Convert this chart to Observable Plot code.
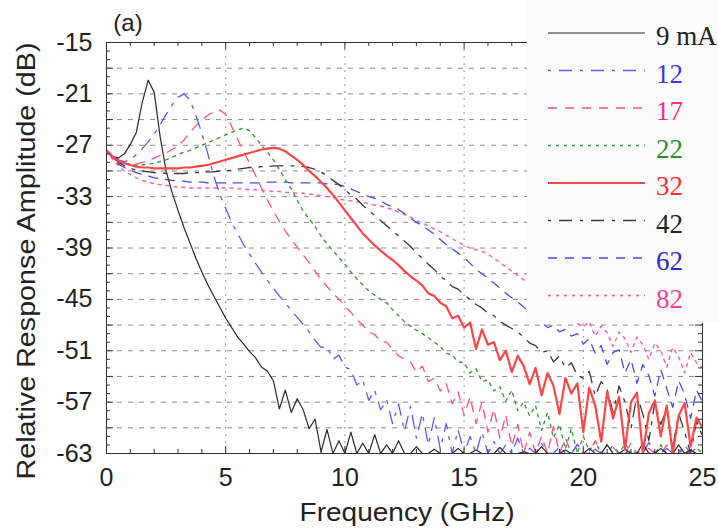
<!DOCTYPE html>
<html><head><meta charset="utf-8">
<script src="https://cdn.jsdelivr.net/npm/d3@7"></script>
<script src="https://cdn.jsdelivr.net/npm/@observablehq/plot@0.6"></script>
<style>
html,body{margin:0;padding:0;background:#fff;}
#chart{width:718px;height:529px;position:relative;}
</style></head><body><div id="chart"></div>
<script>
// Bias currents (legend labels)
const seriesNames = ["9 mA","12","17","22","32","42","62","82"];
// Frequency grid (GHz), 0.25 GHz step, 101 points
const freq = d3.range(101).map(i => i * 0.25);

// Relative response amplitude (dB)
const s9 = [
 -27.6,-28.3,-28.5,-28.0,-26.9,-25.5,-22.0,-19.4,-20.8,-26.0,-30.0,-32.5,-34.6,-36.6,-38.4,-40.2,-41.8,-43.3,-44.6,-45.9,
 -47.2,-48.3,-49.4,-50.2,-51.1,-51.8,-52.9,-53.4,-54.5,-57.8,-55.6,-58.2,-56.6,-57.9,-60.1,-59.0,-62.8,-60.2,-63,-61.5,
 -63,-60.5,-63,-61.8,-63,-60.8,-63,-62.0,-63,-61.5,-63,-63,-62.2,-63,-63,-62.5,-63,-63,-63,-62.4,
 -63,-63,-62.6,-63,-63,-63,-62.3,-63,-63,-63,-62.8,-63,-63,-62.2,-63,-63,-63,-62.6,-63,-63,
 -63,-62.4,-63,-63,-62.0,-63,-63,-62.5,-63,-63,-61.8,-63,-63,-62.4,-63,-63,-62.0,-63,-62.6,-63,
 -63];
const s12 = [
 -27.6,-28.2,-28.7,-28.9,-28.7,-28.1,-27.4,-26.6,-25.7,-24.6,-23.4,-22.3,-21.4,-21.0,-21.7,-23.5,-25.6,-28.0,-30.6,-32.7,
 -34.4,-36.0,-37.3,-38.6,-39.7,-40.8,-41.8,-42.8,-43.7,-44.6,-45.4,-46.3,-47.1,-47.9,-48.8,-49.8,-50.6,-50.5,-52.0,-51.5,
 -52.9,-53.2,-55.0,-54.4,-56.8,-55.6,-57.9,-56.7,-59.5,-57.2,-60.4,-57.5,-61.2,-58.3,-62.0,-58.8,-62.5,-59.5,-63,-60.2,
 -63,-61.0,-63,-60.5,-63,-61.6,-63,-62.0,-63,-61.2,-63,-62.4,-63,-61.8,-63,-63,-62.2,-63,-63,-61.9,
 -63,-63,-62.5,-63,-63,-62.0,-63,-63,-62.6,-63,-63,-61.7,-63,-63,-62.4,-63,-63,-62.0,-63,-63,
 -63];
const s17 = [
 -27.6,-28.4,-28.9,-29.1,-29.2,-29.2,-29.0,-28.8,-28.5,-28.2,-27.9,-27.5,-27.1,-26.4,-25.5,-24.7,-24.1,-23.5,-23.1,-22.9,
 -23.4,-24.8,-26.3,-27.7,-29.1,-30.5,-32.0,-33.4,-34.7,-35.9,-37.0,-38.0,-38.9,-39.8,-40.7,-41.7,-42.7,-43.5,-44.3,-45.0,
 -45.8,-46.5,-47.4,-48.0,-48.8,-49.1,-49.9,-50.0,-50.8,-51.6,-52.0,-52.3,-53.5,-52.8,-54.6,-54.2,-55.7,-54.8,-57.2,-55.8,
 -58.6,-56.4,-59.5,-57.0,-60.5,-57.8,-61.2,-58.5,-62.2,-59.6,-63,-60.5,-63,-61.0,-63,-59.8,-63,-61.2,-63,-62.0,
 -63,-63,-61.5,-63,-63,-62.3,-63,-63,-61.8,-63,-63,-62.4,-63,-63,-62.0,-63,-63,-62.6,-63,-63,
 -63];
const s22 = [
 -27.6,-28.3,-28.8,-29.1,-29.2,-29.3,-29.3,-29.2,-29.1,-28.9,-28.7,-28.4,-28.1,-27.8,-27.6,-27.3,-27.0,-26.7,-26.4,-26.1,
 -25.8,-25.5,-25.2,-25.0,-25.3,-26.1,-27.0,-27.8,-28.7,-29.8,-31.0,-32.1,-33.4,-34.7,-35.6,-36.5,-37.6,-38.5,-39.3,-40.1,
 -40.9,-41.8,-42.6,-43.3,-44.0,-44.5,-45.0,-45.4,-46.2,-46.9,-47.6,-48.1,-48.6,-49.0,-49.5,-50.0,-50.5,-51.3,-51.5,-52.3,
 -52.4,-53.6,-53.1,-54.6,-54.4,-55.7,-55.2,-56.9,-55.6,-58.0,-57.0,-58.6,-57.4,-60.3,-58.2,-61.2,-59.6,-62.5,-60.1,-63,
 -61.0,-62.7,-61.6,-63,-62.0,-63,-63,-61.8,-63,-63,-62.4,-63,-63,-62.0,-63,-63,-62.6,-63,-63,-62.3,
 -63];
const s32 = [
 -27.6,-28.3,-28.8,-29.1,-29.3,-29.5,-29.6,-29.6,-29.7,-29.7,-29.7,-29.7,-29.7,-29.6,-29.6,-29.5,-29.4,-29.3,-29.1,-28.9,
 -28.7,-28.5,-28.3,-28.1,-27.9,-27.7,-27.5,-27.4,-27.3,-27.4,-27.7,-28.2,-28.7,-29.3,-30.0,-30.6,-31.3,-32.0,-32.8,-33.7,
 -34.6,-35.5,-36.4,-37.3,-38.0,-38.7,-39.3,-39.9,-40.4,-41.0,-41.7,-42.3,-42.8,-43.4,-44.3,-44.6,-45.4,-45.8,-47.2,-46.9,
 -48.3,-47.7,-50.8,-48.5,-50.3,-50.0,-52.1,-51.0,-53.5,-51.6,-52.8,-54.9,-53.0,-56.2,-53.6,-55.1,-58.4,-54.2,-56.0,-54.8,
 -60.5,-55.3,-57.4,-61.6,-55.8,-58.9,-56.4,-62.5,-57.0,-55.9,-63,-58.3,-56.8,-61.0,-57.4,-63,-58.6,-57.1,-62.2,-58.8,
 -60];
const s42 = [
 -27.6,-28.4,-29.0,-29.4,-29.7,-29.9,-30.0,-30.1,-30.2,-30.2,-30.3,-30.3,-30.3,-30.3,-30.2,-30.2,-30.2,-30.1,-30.1,-30.0,
 -30.0,-29.9,-29.8,-29.7,-29.6,-29.6,-29.5,-29.5,-29.4,-29.4,-29.4,-29.4,-29.4,-29.5,-29.6,-29.8,-30.1,-30.6,-31.1,-31.6,
 -32.2,-32.8,-33.3,-34.0,-34.6,-35.2,-35.8,-36.4,-37.0,-37.6,-38.2,-38.8,-39.6,-40.2,-40.9,-41.5,-42.3,-42.8,-43.5,-43.8,
 -44.5,-45.0,-45.6,-46.0,-46.6,-46.9,-47.6,-48.0,-48.4,-48.8,-49.4,-50.1,-50.4,-51.2,-51.0,-52.3,-51.6,-53.0,-52.4,-53.9,
 -54.2,-53.4,-56.3,-54.6,-55.5,-58.2,-55.1,-57.0,-60.1,-56.2,-58.4,-61.5,-57.0,-59.6,-57.8,-62.4,-58.3,-60.5,-63,-59.2,
 -61];
const s62 = [
 -27.6,-28.5,-29.2,-29.6,-29.9,-30.2,-30.4,-30.6,-30.8,-30.9,-31.0,-31.1,-31.2,-31.2,-31.3,-31.3,-31.3,-31.4,-31.4,-31.4,
 -31.4,-31.4,-31.4,-31.4,-31.4,-31.4,-31.4,-31.3,-31.3,-31.3,-31.3,-31.4,-31.4,-31.4,-31.4,-31.4,-31.4,-31.5,-31.5,-31.6,
 -31.8,-32.1,-32.4,-32.7,-33.0,-33.2,-33.5,-33.9,-34.2,-34.5,-35.0,-35.5,-36.0,-36.4,-36.9,-37.4,-38.0,-38.6,-39.1,-39.6,
 -40.1,-40.8,-41.5,-42.0,-42.5,-43.1,-43.7,-44.3,-44.8,-45.3,-45.9,-46.5,-47.1,-47.7,-48.3,-48.0,-48.8,-48.5,-49.3,-49.0,
 -50.2,-49.6,-51.3,-50.4,-52.6,-51.2,-50.9,-53.6,-52.0,-54.8,-52.6,-53.9,-56.3,-53.2,-55.4,-57.6,-54.5,-56.1,-58.9,-55.6,
 -57];
const s82 = [
 -27.6,-28.6,-29.4,-30.0,-30.4,-30.8,-31.1,-31.3,-31.5,-31.6,-31.7,-31.8,-31.9,-31.9,-32.0,-32.0,-32.0,-32.0,-32.0,-32.0,
 -32.0,-32.0,-32.1,-32.1,-32.2,-32.2,-32.3,-32.3,-32.4,-32.4,-32.5,-32.5,-32.6,-32.6,-32.7,-32.8,-32.9,-33.0,-33.1,-33.3,
 -33.4,-33.5,-33.6,-33.7,-33.8,-34.0,-34.1,-34.3,-34.5,-34.8,-35.1,-35.4,-35.8,-36.1,-36.4,-36.8,-37.1,-37.5,-37.9,-38.3,
 -38.7,-39.0,-39.2,-39.4,-39.7,-40.2,-40.7,-41.2,-41.7,-42.2,-42.7,-43.3,-43.9,-44.5,-45.1,-45.7,-46.3,-46.8,-47.3,-47.8,
 -48.2,-47.6,-49.3,-48.1,-48.9,-50.5,-48.8,-49.6,-51.2,-49.4,-50.3,-52.0,-50.1,-51.0,-52.9,-50.6,-51.7,-53.6,-51.2,-52.4,
 -53];

// Axis ticks and texts
const xTicks = [0,5,10,15,20,25];
const yTicks = [-63,-57,-51,-45,-39,-33,-27,-21,-15];
const gridX = [5,10,15,20];
const gridY = [-60,-57,-54,-51,-48,-45,-42,-39,-36,-33,-30,-27,-24,-21,-18];
const minorX = d3.range(1,25);
const minorY = d3.range(-62,-15);
const xTitle = "Frequency (GHz)";
const yTitle = "Relative Response Amplitude (dB)";
const panelTag = "(a)";

const allSeries = [s9,s12,s17,s22,s32,s42,s62,s82];
allSeries.forEach((s,k) => { if (s.length !== freq.length) throw new Error("series " + seriesNames[k] + " has " + s.length); });

// Styles
const lineColors = ["#2a2a2a","#5a5aff","#ff4f8f","#3c9a3c","#ff4646","#3a3a3a","#4a4af0","#ff5ca3"];
const textColors = ["#222222","#3b3bdd","#ff2d80","#2e8b2e","#ff3030","#222222","#2b2bd0","#ff3d95"];
const dashes = [null,"3,8,13,8","9,8","3,5",null,"3,8,13,8","9,8","3,5"];
const widths = [1.2,1.3,1.3,1.4,2.2,1.3,1.3,1.4];
const drawOrder = [7,6,5,3,2,1,0,4];

const lineMarks = drawOrder.map(k => Plot.line(
  freq.map((f, j) => ({f, v: allSeries[k][j]})),
  {x: "f", y: "v", stroke: lineColors[k], strokeWidth: widths[k], strokeDasharray: dashes[k], clip: true}
));

const W = 718, H = 529, mL = 106, mR = 16, mT = 42, mB = 76;
const innerW = W - mL - mR, innerH = H - mT - mB;

const chart = Plot.plot({
  width: W, height: H,
  marginLeft: mL, marginRight: mR, marginTop: mT, marginBottom: mB,
  x: {domain: [0, 25]},
  y: {domain: [-63, -15]},
  style: {fontFamily: "'Liberation Sans', Arial, sans-serif", fontSize: "25px", color: "#222", background: "#fff"},
  marks: [
    Plot.ruleY(gridY, {stroke: "#8c8c8c", strokeDasharray: "5,6"}),
    Plot.ruleX(gridX, {stroke: "#9a9a9a", strokeDasharray: "2,5"}),
    ...lineMarks,
    Plot.frame({stroke: "#333"}),
    Plot.tickY(minorY.filter(v => v % 3 !== 0), {insetRight: innerW - 4, stroke: "#333"}),
    Plot.tickY(minorY.filter(v => v % 3 === 0), {insetRight: innerW - 7, stroke: "#333"}),
    Plot.tickY(minorY.filter(v => v % 3 !== 0), {insetLeft: innerW - 4, stroke: "#333"}),
    Plot.tickY(minorY.filter(v => v % 3 === 0), {insetLeft: innerW - 7, stroke: "#333"}),
    Plot.tickX(minorX.filter(v => v % 5 !== 0), {insetTop: innerH - 4, stroke: "#333"}),
    Plot.tickX(minorX.filter(v => v % 5 === 0), {insetTop: innerH - 7, stroke: "#333"}),
    Plot.tickX(minorX.filter(v => v % 5 !== 0), {insetBottom: innerH - 4, stroke: "#333"}),
    Plot.tickX(minorX.filter(v => v % 5 === 0), {insetBottom: innerH - 7, stroke: "#333"}),
    Plot.axisX({ticks: xTicks, tickSize: 0, tickPadding: 15, fontSize: 25, label: null, tickFormat: d => String(d)}),
    Plot.axisY({ticks: yTicks, tickSize: 0, tickPadding: 14, fontSize: 25, label: null, tickFormat: d => String(d)})
  ]
});
document.getElementById("chart").appendChild(chart);

const svg = d3.select(chart);
svg.append("text").attr("x", 407).attr("y", 521).attr("text-anchor", "middle")
  .attr("font-size", 26).attr("textLength", 215).attr("lengthAdjust", "spacingAndGlyphs")
  .attr("fill", "#222").text(xTitle);
svg.append("text").attr("transform", "translate(35,261) rotate(-90)").attr("text-anchor", "middle")
  .attr("font-size", 25).attr("textLength", 437).attr("lengthAdjust", "spacingAndGlyphs")
  .attr("fill", "#222").text(yTitle);
svg.append("text").attr("x", 128).attr("y", 31).attr("text-anchor", "middle")
  .attr("font-size", 24).attr("fill", "#222").text(panelTag);

// Legend box overlaying the top-right of the plot
const lg = svg.append("g").attr("text-anchor", "start");
lg.append("rect").attr("x", 527).attr("y", 0).attr("width", 191).attr("height", 323).attr("fill", "#fbfbfb");
seriesNames.forEach((name, k) => {
  const yy = 33 + k * 37.5;
  lg.append("line").attr("x1", 548).attr("x2", 645).attr("y1", yy).attr("y2", yy)
    .attr("stroke", lineColors[k]).attr("stroke-width", widths[k])
    .attr("stroke-dasharray", dashes[k]);
  lg.append("text").attr("x", 656).attr("y", yy + 12).attr("text-anchor", "start")
    .attr("font-family", "'Liberation Serif', 'Times New Roman', serif").attr("font-size", 27)
    .attr("fill", textColors[k]).text(name);
});
</script>
</body></html>
